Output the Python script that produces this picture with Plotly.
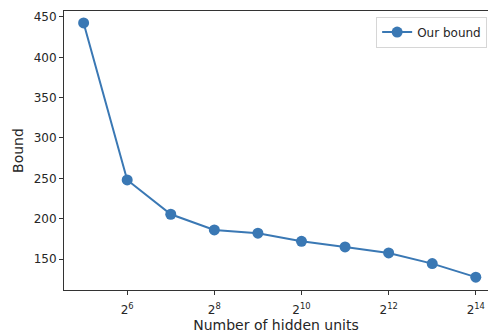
import math
import plotly.graph_objects as go

hidden_units = [2**5, 2**6, 2**7, 2**8, 2**9, 2**10, 2**11, 2**12, 2**13, 2**14]
bound = [442.6, 248, 205.5, 186, 182, 172, 165, 157.5, 144.3, 127.5]
tick_vals = [2**6, 2**8, 2**10, 2**12, 2**14]
tick_text = ["2<sup>6</sup>", "2<sup>8</sup>", "2<sup>10</sup>", "2<sup>12</sup>", "2<sup>14</sup>"]
y_ticks = [150, 200, 250, 300, 350, 400, 450]

color = "#3a78b4"
fig = go.Figure()
fig.add_trace(go.Scatter(
    x=hidden_units, y=bound, mode="lines+markers", name="Our bound",
    line=dict(color=color, width=2),
    marker=dict(color=color, size=11),
))

fig.update_layout(
    width=488, height=333,
    margin=dict(l=64, r=0, t=11, b=43),
    plot_bgcolor="white", paper_bgcolor="white",
    font=dict(family="DejaVu Sans", size=12, color="#262626"),
    showlegend=True,
    legend=dict(x=0.998, y=0.98, xanchor="right", yanchor="top",
                bordercolor="#d6d6d6", borderwidth=1, bgcolor="white",
                font=dict(size=12), itemwidth=30),
    xaxis=dict(type="log", range=[math.log10(2**4.55), math.log10(2**14.28)],
               tickvals=tick_vals, ticktext=tick_text, automargin=False,
               ticklabelstandoff=5,
               showgrid=False, zeroline=False, showline=True, linecolor="#333333",
               linewidth=1, mirror=True, ticks="outside", ticklen=4, tickcolor="#333333",
               title=dict(text="Number of hidden units", standoff=2)),
    yaxis=dict(range=[111.6, 457.4], tickvals=y_ticks, automargin=False,
               showgrid=False, zeroline=False, showline=True, linecolor="#333333",
               linewidth=1, mirror=False, ticks="outside", ticklen=4, tickcolor="#333333",
               title=dict(text="Bound", standoff=6)),
)

fig.write_html(
    "out.html",
    config={"displayModeBar": False},
    post_script="document.body.style.margin='0';document.body.style.overflow='hidden';",
)
